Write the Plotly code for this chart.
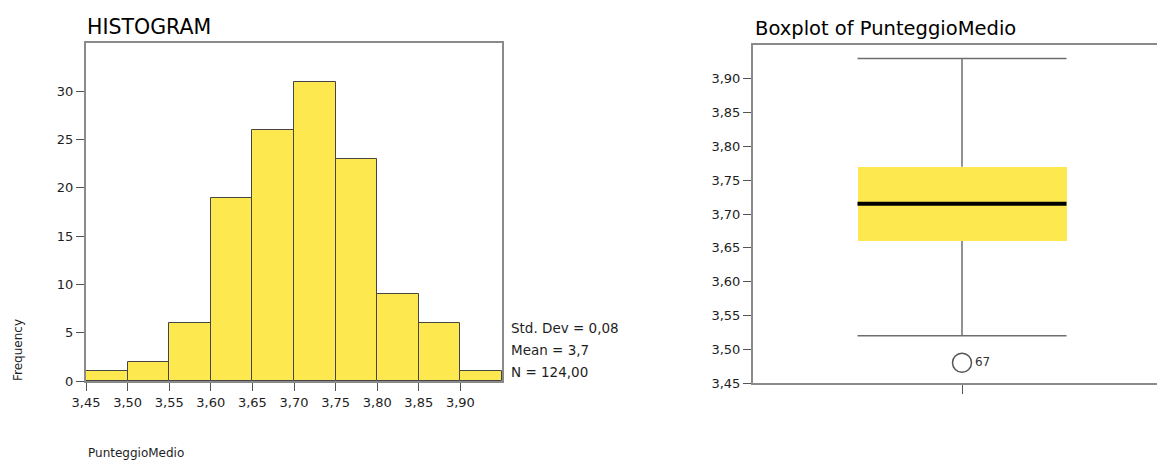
import plotly.graph_objects as go

# ---- data ----
bin_starts = [3.45, 3.50, 3.55, 3.60, 3.65, 3.70, 3.75, 3.80, 3.85, 3.90]
counts = [1, 2, 6, 19, 26, 31, 23, 9, 6, 1]
bin_width = 0.05
hist_xticks = [3.45, 3.50, 3.55, 3.60, 3.65, 3.70, 3.75, 3.80, 3.85, 3.90]
hist_yticks = [0, 5, 10, 15, 20, 25, 30]
stats_lines = ["Std. Dev = 0,08", "Mean = 3,7", "N = 124,00"]

box_q1 = 3.66
box_median = 3.715
box_q3 = 3.77
box_lower = 3.52
box_upper = 3.93
outlier_values = [3.48]
outlier_labels = ["67"]
box_yticks = [3.45, 3.50, 3.55, 3.60, 3.65, 3.70, 3.75, 3.80, 3.85, 3.90]

YELLOW = "#FDE84F"
AXIS = "#8a8a8a"
TXT = "#1e1e1e"
FONT = "DejaVu Sans"
W, H = 1157, 461

fig = go.Figure()

# Histogram bars
fig.add_trace(go.Bar(
    x=bin_starts, y=counts, width=[bin_width] * len(counts), offset=0,
    marker=dict(color=YELLOW, line=dict(color="#454545", width=1)),
    xaxis="x", yaxis="y", hoverinfo="x+y"))

# Boxplot: box body
half = 0.5
fig.add_trace(go.Bar(
    x=[0], base=[box_q1], y=[box_q3 - box_q1], width=[2 * half],
    marker=dict(color=YELLOW, line=dict(width=0)),
    xaxis="x2", yaxis="y2"))
# whiskers
fig.add_trace(go.Scatter(
    x=[0, 0, None, 0, 0], y=[box_q3, box_upper, None, box_q1, box_lower],
    mode="lines", line=dict(color="#6e6e6e", width=1.5),
    xaxis="x2", yaxis="y2"))
fig.add_trace(go.Scatter(
    x=[-half, half, None, -half, half],
    y=[box_upper, box_upper, None, box_lower, box_lower],
    mode="lines", line=dict(color="#6e6e6e", width=1.5),
    xaxis="x2", yaxis="y2"))
# median
fig.add_trace(go.Scatter(
    x=[-half, half], y=[box_median, box_median],
    mode="lines", line=dict(color="black", width=4),
    xaxis="x2", yaxis="y2"))
# outliers
fig.add_trace(go.Scatter(
    x=[0] * len(outlier_values), y=outlier_values, mode="markers+text",
    text=outlier_labels, textposition="middle right",
    textfont=dict(family=FONT, size=12, color="#333"),
    marker=dict(symbol="circle-open", size=19, color="#555", line=dict(width=1.5)),
    xaxis="x2", yaxis="y2"))

def px_x(p):
    return p / W

def px_y(p):
    return (H - p) / H

annotations = [
    dict(text="HISTOGRAM", x=px_x(85), y=px_y(27), xref="paper", yref="paper",
         xanchor="left", yanchor="middle", showarrow=False,
         font=dict(family=FONT, size=20.5, color="#000")),
    dict(text="Boxplot of PunteggioMedio", x=px_x(753), y=px_y(29), xref="paper", yref="paper",
         xanchor="left", yanchor="middle", showarrow=False,
         font=dict(family=FONT, size=19.5, color="#000")),
    dict(text="Frequency", x=px_x(18), y=px_y(350), xref="paper", yref="paper",
         xanchor="center", yanchor="middle", textangle=-90, showarrow=False,
         font=dict(family=FONT, size=12, color=TXT)),
    dict(text="PunteggioMedio", x=px_x(86), y=px_y(453), xref="paper", yref="paper",
         xanchor="left", yanchor="middle", showarrow=False,
         font=dict(family=FONT, size=12, color=TXT)),
]
for i, line in enumerate(stats_lines):
    annotations.append(dict(
        text=line, x=px_x(509), y=px_y(328 + 22 * i), xref="paper", yref="paper",
        xanchor="left", yanchor="middle", showarrow=False,
        font=dict(family=FONT, size=13.5, color=TXT)))

tickfont = dict(family=FONT, size=13, color=TXT)

fig.update_layout(
    width=W, height=H,
    margin=dict(l=0, r=0, t=0, b=0),
    paper_bgcolor="white", plot_bgcolor="white",
    showlegend=False, separators=",.", bargap=0,
    annotations=annotations,
    xaxis=dict(domain=[px_x(86), px_x(502)], range=[3.45, 3.95],
               tickvals=hist_xticks, tickformat=".2f", ticks="outside", ticklen=8,
               tickcolor="#555", showline=True, linecolor=AXIS, linewidth=2, mirror=True,
               showgrid=False, zeroline=False, tickfont=tickfont, fixedrange=True,
               automargin=False),
    yaxis=dict(domain=[px_y(381), px_y(43)], range=[0, 35],
               tickvals=hist_yticks, ticks="outside", ticklen=8,
               tickcolor="#555", showline=True, linecolor=AXIS, linewidth=2, mirror=True,
               showgrid=False, zeroline=False, tickfont=tickfont, fixedrange=True,
               automargin=False),
    xaxis2=dict(domain=[px_x(753), 1.0], range=[-1.0, 0.933], anchor="y2",
                tickvals=[0], ticktext=[""], ticks="outside", ticklen=9, tickcolor="#555",
                showline=True, linecolor=AXIS, linewidth=2, mirror=True,
                showgrid=False, zeroline=False, fixedrange=True, automargin=False),
    yaxis2=dict(domain=[px_y(383), px_y(45)], range=[3.45, 3.95], anchor="x2",
                tickvals=box_yticks, tickformat=".2f", ticks="outside", ticklen=8,
                tickcolor="#555", showline=True, linecolor=AXIS, linewidth=2, mirror=False,
                showgrid=False, zeroline=False, tickfont=tickfont, fixedrange=True,
                automargin=False),
)

fig.write_html(
    "out.html",
    config={"displayModeBar": False},
    post_script="document.body.style.margin='0px';document.body.style.overflow='hidden';",
)
